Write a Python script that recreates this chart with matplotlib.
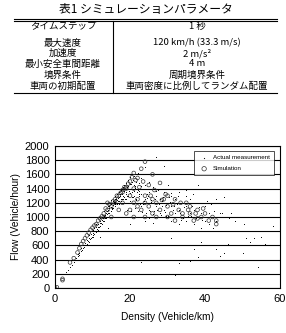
import matplotlib
matplotlib.use("Agg")
import matplotlib.pyplot as plt
from matplotlib.lines import Line2D

plt.rcParams['font.family'] = ['Liberation Sans', 'Noto Sans CJK JP', 'DejaVu Sans']

# table text
title = "表1 シミュレーションパラメータ"
row_names = ["タイムステップ", "最大速度", "加速度", "最小安全車間距離", "境界条件", "車両の初期配置"]
row_values = ["1 秒", "120 km/h (33.3 m/s)", "2 m/s²", "4 m", "周期境界条件", "車両密度に比例してランダム配置"]

# actual measurement (density veh/km, flow veh/hour)
act_d = [3, 3.5, 4, 4.5, 5, 5, 5.5, 6, 6, 6.5, 6.5, 7, 7, 7.5, 7.5, 8, 8, 8.5, 8.5, 9, 9, 9,
         9.5, 9.5, 10, 10, 10, 10.5, 10.5, 11, 11, 11, 11.5, 11.5, 12, 12, 12, 12.5, 12.5, 13, 13, 13,
         13.5, 13.5, 14, 14, 14, 14.5, 14.5, 15, 15, 15, 15.5, 15.5, 16, 16, 16, 16.5, 16.5, 17, 17, 17,
         17.5, 17.5, 18, 18, 18, 18.5, 18.5, 19, 19, 19, 19.5, 19.5, 20, 20, 20, 20.5, 20.5, 21, 21, 21,
         21.5, 21.5, 22, 22, 22, 22.5, 22.5, 23, 23, 23, 24, 24, 24, 25, 25, 25, 26, 26, 27, 27, 27,
         28, 28, 28, 29, 29, 29, 30, 30, 30, 31, 31, 31, 31, 32, 32, 32, 32, 33, 33, 33, 33, 34, 34, 34,
         35, 35, 35, 35, 36, 36, 36, 37, 37, 37, 38, 38, 38, 38, 39, 39, 39, 40, 40, 40, 41, 41, 42, 42, 42,
         43, 43, 43, 44, 44, 44, 45, 45, 45, 46, 46, 47, 48, 48, 49, 50, 51, 52, 53, 54, 55, 56, 57, 58,
         23, 24, 25, 26, 18, 14, 12, 20, 22,
         16.8, 17.2, 17.8, 18.3, 18.8, 19.3, 19.8, 20.3, 20.8, 21.3, 21.8, 22.3, 15.3, 15.8, 16.2, 14.8,
         13.8, 13.2, 12.8, 12.2, 11.8, 11.2, 10.8, 10.2, 9.8, 9.2, 8.8, 8.2, 7.8, 7.2,
         23.5, 24.5, 25.5, 26.5, 27.5, 28.5, 29.5, 30.5, 31.5, 32.5, 33.5, 34.5, 35.5, 36.5, 37.5,
         11.4, 11.9, 12.4, 12.9, 13.4, 13.9, 14.4, 14.9, 15.4, 15.9, 16.4, 16.9, 17.4, 17.9, 18.4, 18.9,
         19.4, 19.9, 20.4, 20.9, 21.4, 21.9, 22.4, 22.9, 14.2, 15.1, 16.1, 17.1, 18.1, 19.1, 20.1, 21.1,
         16.6, 17.6, 18.6, 19.6, 20.6, 21.6, 22.6, 23.6, 24.6, 25.6, 26.6, 27.6, 28.6, 29.6, 30.6, 31.6,
         19.2, 20.2, 21.2, 22.2, 23.2, 24.2, 25.2, 26.2, 27.2, 28.2, 29.2, 30.2, 33.2, 34.2, 36.2, 39.2,
         41.5, 42.5, 40.5, 38.5, 36.8, 34.8, 32.8, 30.8, 28.8, 26.8, 24.8, 22.8, 44.5, 46.5, 47.5, 50.5]
act_f = [230, 260, 300, 330, 370, 400, 420, 450, 480, 500, 470, 520, 560, 560, 600, 600, 640, 620, 680, 650, 700, 740,
         700, 760, 720, 780, 820, 760, 840, 800, 860, 900, 820, 900, 880, 940, 980, 900, 1000, 940, 1020, 1080,
         980, 1060, 1000, 1100, 1160, 1050, 1150, 1080, 1180, 1240, 1120, 1220, 1150, 1250, 1300, 1200, 1320, 1180, 1280, 1350,
         1250, 1380, 1200, 1300, 1420, 1280, 1450, 1250, 1350, 1480, 1300, 1520, 1220, 1400, 1560, 1350, 1600, 1300, 1450, 1580,
         1250, 1500, 1200, 1380, 1620, 1320, 1480, 1150, 1400, 1550, 1250, 1450, 1700, 1100, 1350, 1500, 1200, 1420, 1150, 1300, 1850,
         1050, 1250, 1400, 1100, 1350, 1720, 1000, 1200, 1450, 950, 1150, 1300, 700, 1050, 1250, 1400, 180, 900, 1100, 1350, 350, 1000, 1200, 800,
         950, 1150, 1300, 600, 1050, 1250, 380, 900, 1100, 550, 1000, 1200, 1450, 430, 850, 1050, 650, 950, 1150, 800, 900, 1050, 1000, 850, 600,
         950, 1250, 550, 1050, 800, 450, 1280, 1000, 500, 620, 800, 1050, 950, 600, 800, 500, 700, 650, 700, 300, 720, 620, 400, 880,
         370, 950, 980, 920, 800, 850, 720, 900, 1000,
         1230, 1320, 1260, 1390, 1330, 1420, 1370, 1460, 1280, 1410, 1350, 1290, 1130, 1210, 1260, 1090,
         1040, 990, 950, 920, 860, 830, 790, 750, 720, 690, 660, 610, 580, 540,
         1180, 1320, 1240, 1080, 1380, 1160, 1020, 1280, 1100, 1180, 960, 1140, 1020, 1160, 980,
         860, 910, 960, 990, 1030, 1080, 1120, 1140, 1170, 1210, 1240, 1270, 1300, 1330, 1370, 1400,
         1430, 1460, 1490, 1520, 1430, 1400, 1360, 1320, 1060, 1110, 1190, 1230, 1260, 1300, 1340, 1370,
         1180, 1220, 1250, 1200, 1280, 1240, 1190, 1230, 1270, 1210, 1260, 1190, 1230, 1170, 1210, 1150,
         1100, 1080, 1120, 1080, 1070, 1050, 1090, 1040, 1100, 1030, 1070, 1010, 1060, 980, 1020, 960,
         1180, 1080, 1230, 1140, 1330, 1380, 1290, 1340, 1280, 1360, 1300, 1430, 1060, 980, 1000, 900]

# simulation (open circles)
sim_d = [0, 0.5, 2, 2, 4, 5, 6, 7, 8, 9, 10, 11, 12, 13, 14, 14, 15, 16, 17, 17, 18, 18, 19, 19, 20, 20, 20,
         21, 21, 21, 22, 22, 23, 23, 24, 24, 24, 25, 25, 26, 26, 27, 27, 28, 28, 29, 30, 30, 31, 32, 32, 33,
         34, 35, 36, 37, 38, 39, 40, 41, 43, 43, 19, 18, 16, 15, 13, 21,
         6.5, 7.5, 8.5, 9.5, 10.5, 11.5, 12.5, 13.5, 14.5, 15.5, 16.5, 17.5, 18.5, 19.5, 20.5, 21.5,
         22.5, 23.5, 25.5, 26.5, 28.5, 29.5, 31.5, 33.5, 35.5, 37.5, 39.5, 22, 24, 26, 30, 34, 36, 38, 42]
sim_f = [0, 10, 130, 110, 360, 420, 500, 620, 700, 780, 850, 900, 980, 1050, 1100, 1200, 1150, 1250, 1300, 1100, 1380, 1200, 1420, 1050, 1500, 1300, 1100,
         1620, 1400, 1000, 1550, 1250, 1680, 1100, 1780, 1300, 1000, 1450, 1150, 1600, 1050, 1200, 1000, 1480, 1100, 1250, 1150, 1000, 1050, 1250, 950, 1100,
         1000, 1200, 1050, 950, 1100, 1000, 1050, 950, 900, 950, 1400, 1350, 1200, 1000, 1000, 1200,
         560, 660, 740, 820, 880, 950, 1010, 1120, 1180, 1220, 1300, 1340, 1420, 1470, 1560, 1520,
         1420, 1500, 1300, 1380, 1240, 1320, 1180, 1200, 1100, 1050, 1120, 1150, 1200, 1250, 1300, 1050, 1150, 980, 1000]

fig = plt.figure(figsize=(2.86, 3.33), dpi=100)

# ---- table at the top ----
W, H = 286.0, 333.0
def fx(px): return px / W
def fy(py): return 1 - py / H

jp = ['Noto Sans CJK JP', 'DejaVu Sans']
fig.text(fx(146), fy(9), title, ha='center', va='center', fontsize=8.5, family=jp)
for y in [18.5, 20.5, 93]:
    fig.add_artist(Line2D([fx(14), fx(277)], [fy(y), fy(y)], color='black', lw=0.8))
fig.add_artist(Line2D([fx(113), fx(113)], [fy(20.5), fy(93)], color='black', lw=0.8))
row_y = [26, 43, 53.5, 64, 75, 86]
for y, name, val in zip(row_y, row_names, row_values):
    fig.text(fx(63), fy(y), name, ha='center', va='center', fontsize=6.8, family=jp)
    fig.text(fx(197), fy(y), val, ha='center', va='center', fontsize=6.8, family=jp)

# ---- scatter chart ----
ax = fig.add_axes([fx(55), fy(288), fx(280) - fx(55), fy(146) - fy(288)])
ax.scatter(act_d, act_f, s=2.0, c='black', marker='.', linewidths=0, label='Actual measurement', zorder=3)
ax.scatter(sim_d, sim_f, s=7, facecolors='none', edgecolors='#333333', linewidths=0.5, label='Simulation', zorder=2)
ax.set_xlim(0, 60)
ax.set_ylim(0, 2000)
ax.set_xticks([0, 20, 40, 60])
ax.set_yticks(range(0, 2001, 200))
ax.yaxis.grid(True, color='black', lw=0.8)
ax.set_axisbelow(True)
ax.tick_params(length=0, labelsize=8, pad=4)
for sp in ax.spines.values():
    sp.set_linewidth(0.8)
ax.set_xlabel('Density (Vehicle/km)', fontsize=7.3, labelpad=6)
ax.set_ylabel('Flow (Vehicle/hour)', fontsize=7.3, labelpad=3)
leg = ax.legend(loc='upper right', fontsize=4.5, frameon=True, fancybox=False, edgecolor='black',
                markerscale=1.2, handletextpad=0.4, borderpad=0.6, labelspacing=0.9,
                bbox_to_anchor=(0.985, 0.985))
leg.get_frame().set_linewidth(0.6)

fig.savefig('out.png', dpi=100)
